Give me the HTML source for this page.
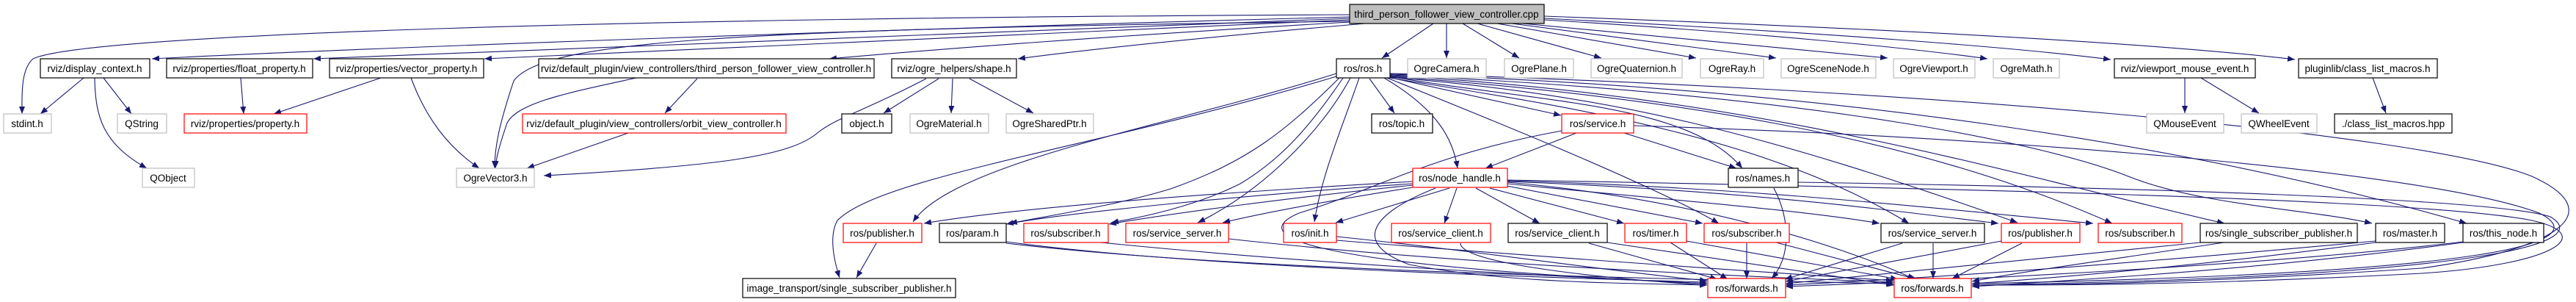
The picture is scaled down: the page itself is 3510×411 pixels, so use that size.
<!DOCTYPE html>
<html><head><meta charset="utf-8"><style>
html,body{margin:0;padding:0;background:#fff;}
svg{display:block;}
text{font-family:"Liberation Sans",sans-serif;font-size:13.5px;fill:#000;text-anchor:middle;}
.e{fill:none;stroke:#191970;stroke-width:1.1;}
</style></head><body>
<svg width="3510" height="411" viewBox="0 0 3510 411" xmlns="http://www.w3.org/2000/svg">
<defs>
<marker id="a" viewBox="0 0 10 8" refX="10" refY="4" markerWidth="10" markerHeight="8" markerUnits="userSpaceOnUse" orient="auto">
<path d="M0,0 L10,4 L0,8 z" fill="#191970"/>
</marker>
</defs>
<g class="e" marker-end="url(#a)">
<path d="M1839,20 C900,24 120,45 45,80 C28,95 30,130 30,155"/>
<path d="M1839,23 C1200,40 500,65 207,80"/>
<path d="M1839,25 C1300,45 800,65 427,80"/>
<path d="M1839,27 C1400,48 1000,65 660,80"/>
<path d="M1839,29 C1000,40 740,55 700,110 C680,170 674,200 674,229"/>
<path d="M1839,30 C1500,50 1300,65 1130,80"/>
<path d="M1860,32 C1650,50 1500,65 1387,80"/>
<path d="M1953,32 L1883,79"/>
<path d="M1971,32 L1971,79"/>
<path d="M1993,32 L2070,79"/>
<path d="M2013,32 L2182,79"/>
<path d="M2040,32 L2311,79"/>
<path d="M2060,32 L2420,79"/>
<path d="M2075,32 L2572,79"/>
<path d="M2104,27 C2400,45 2600,65 2708,80"/>
<path d="M2104,25 C2500,45 2750,65 2876,81"/>
<path d="M2104,22 C2600,40 2950,60 3127,81"/>
<path d="M114,106 L55,155"/>
<path d="M141,106 L179,155"/>
<path d="M129,106 C130,160 140,195 200,229"/>
<path d="M328,106 L332,155"/>
<path d="M519,106 L373,155"/>
<path d="M560,106 C580,160 610,200 653,229"/>
<path d="M867,106 C780,125 700,140 690,170 C680,200 676,215 675,229"/>
<path d="M950,107 L906,154"/>
<path d="M856,181 L718,229"/>
<path d="M1262,107 C1180,150 1140,160 1115,180 C1080,210 1000,225 741,239"/>
<path d="M1279,107 L1204,154"/>
<path d="M1298,107 L1296,154"/>
<path d="M1321,107 L1408,154"/>
<path d="M1821,100 C1600,170 1300,220 1244,302"/>
<path d="M1821,104 C1500,200 1200,240 1141,300 C1130,320 1135,350 1144,378"/>
<path d="M1825,106 C1750,180 1700,220 1595,257 C1520,280 1420,295 1376,304"/>
<path d="M1830,106 C1780,180 1740,220 1690,250 C1630,280 1560,295 1514,303"/>
<path d="M1840,106 C1800,180 1720,260 1632,303"/>
<path d="M1852,106 C1830,170 1800,240 1791,302"/>
<path d="M1866,107 L1900,154"/>
<path d="M1886,106 C1960,150 1980,190 1986,229"/>
<path d="M1892,105 L2127,157"/>
<path d="M1894,104 C2100,140 2300,140 2374,229"/>
<path d="M1890,106 C2000,150 2250,250 2342,304"/>
<path d="M1894,106 C2100,140 2400,180 2601,304"/>
<path d="M1894,105 C2200,130 2400,180 2749,303"/>
<path d="M1894,104 C2250,130 2600,180 2878,304"/>
<path d="M1894,103 C2400,130 2750,240 3031,304"/>
<path d="M1894,102 C2500,130 2800,200 2900,240 C3000,280 3150,285 3232,304"/>
<path d="M1894,101 C2500,120 3000,200 3361,304"/>
<path d="M1894,100 C2600,120 3300,180 3450,240 C3560,290 3480,340 3300,365 C3000,385 2800,388 2687,388"/>
<path d="M1925,247 C1700,260 1400,280 1259,304"/>
<path d="M1925,250 C1700,265 1450,290 1371,305"/>
<path d="M1925,252 C1750,270 1600,290 1511,305"/>
<path d="M1925,255 C1800,275 1720,290 1666,303"/>
<path d="M1975,256 L1820,303"/>
<path d="M1985,256 L1968,304"/>
<path d="M2011,256 L2098,304"/>
<path d="M2030,256 L2213,304"/>
<path d="M2053,253 L2320,304"/>
<path d="M2054,250 C2250,270 2450,285 2561,304"/>
<path d="M1956,256 C1870,290 1840,330 1920,360 C2050,385 2200,385 2326,388"/>
<path d="M2054,248 C2300,270 2500,330 2609,380"/>
<path d="M2054,247 C2400,260 2600,290 2723,304"/>
<path d="M2054,246 C2400,255 2700,290 2852,304"/>
<path d="M2054,245 C2600,255 3300,270 3450,300 C3540,320 3480,360 3300,372 C3000,388 2800,388 2687,388"/>
<path d="M2148,181 L2024,229"/>
<path d="M2213,181 L2366,229"/>
<path d="M2128,178 C1950,210 1870,260 1770,290 C1700,320 1760,360 2326,386"/>
<path d="M2226,171 C2700,185 3300,230 3460,290 C3540,330 3400,372 2687,386"/>
<path d="M2417,256 C2440,300 2440,350 2414,379"/>
<path d="M2450,248 C2900,255 3400,270 3475,295 C3535,330 3400,376 2687,388"/>
<path d="M1194,331 L1167,378"/>
<path d="M1371,329 C1600,360 2000,375 2326,384"/>
<path d="M1371,331 C1700,370 2300,380 2580,386"/>
<path d="M1500,330 C1800,360 2100,375 2326,386"/>
<path d="M1674,325 C1900,350 2200,370 2580,384"/>
<path d="M1821,322 C2000,340 2200,370 2326,382"/>
<path d="M1821,327 C2100,350 2400,370 2580,382"/>
<path d="M1990,331 C1990,360 2200,380 2326,388"/>
<path d="M2165,331 L2340,380"/>
<path d="M2190,330 L2581,388"/>
<path d="M2276,330 L2354,380"/>
<path d="M2298,328 L2586,380"/>
<path d="M2380,331 L2380,379"/>
<path d="M2420,330 L2612,380"/>
<path d="M2592,331 L2432,380"/>
<path d="M2634,331 L2634,379"/>
<path d="M2727,328 L2433,383"/>
<path d="M2755,331 L2660,379"/>
<path d="M2998,330 C2800,350 2600,370 2433,386"/>
<path d="M3030,330 C2900,350 2750,370 2687,383"/>
<path d="M3237,328 C3000,350 2700,375 2433,388"/>
<path d="M3237,330 C3050,355 2850,375 2687,386"/>
<path d="M3356,329 C3100,360 2700,380 2433,390"/>
<path d="M3356,330 C3100,365 2850,380 2687,390"/>
<path d="M2977,106 L2977,154"/>
<path d="M2999,106 L3078,154"/>
<path d="M3233,106 L3251,154"/>
</g>
<g stroke-width="1.2">
<rect x="1839" y="6" width="265" height="26" fill="#bfbfbf" stroke="#000"/>
<rect x="5" y="155" width="65" height="26" fill="#fff" stroke="#bfbfbf"/>
<rect x="55" y="80" width="149" height="26" fill="#fff" stroke="#000"/>
<rect x="160" y="155" width="67" height="26" fill="#fff" stroke="#bfbfbf"/>
<rect x="227" y="80" width="199" height="26" fill="#fff" stroke="#000"/>
<rect x="251" y="155" width="167" height="26" fill="#fff" stroke="#f00"/>
<rect x="194" y="229" width="71" height="26" fill="#fff" stroke="#bfbfbf"/>
<rect x="449" y="80" width="210" height="26" fill="#fff" stroke="#000"/>
<rect x="622" y="229" width="106" height="26" fill="#fff" stroke="#bfbfbf"/>
<rect x="734" y="80" width="457" height="26" fill="#fff" stroke="#000"/>
<rect x="712" y="155" width="359" height="26" fill="#fff" stroke="#f00"/>
<rect x="1215" y="80" width="170" height="26" fill="#fff" stroke="#000"/>
<rect x="1147" y="155" width="68" height="26" fill="#fff" stroke="#000"/>
<rect x="1240" y="155" width="107" height="26" fill="#fff" stroke="#bfbfbf"/>
<rect x="1371" y="155" width="119" height="26" fill="#fff" stroke="#bfbfbf"/>
<rect x="1149" y="304" width="107" height="26" fill="#fff" stroke="#f00"/>
<rect x="1280" y="304" width="91" height="26" fill="#fff" stroke="#000"/>
<rect x="1395" y="304" width="115" height="26" fill="#fff" stroke="#f00"/>
<rect x="1534" y="304" width="140" height="26" fill="#fff" stroke="#f00"/>
<rect x="1749" y="304" width="72" height="26" fill="#fff" stroke="#f00"/>
<rect x="1012" y="379" width="290" height="26" fill="#fff" stroke="#000"/>
<rect x="1821" y="80" width="73" height="26" fill="#fff" stroke="#000"/>
<rect x="1918" y="80" width="107" height="26" fill="#fff" stroke="#bfbfbf"/>
<rect x="2050" y="80" width="94" height="26" fill="#fff" stroke="#bfbfbf"/>
<rect x="2168" y="80" width="124" height="26" fill="#fff" stroke="#bfbfbf"/>
<rect x="2317" y="80" width="86" height="26" fill="#fff" stroke="#bfbfbf"/>
<rect x="2427" y="80" width="129" height="26" fill="#fff" stroke="#bfbfbf"/>
<rect x="2580" y="80" width="111" height="26" fill="#fff" stroke="#bfbfbf"/>
<rect x="1869" y="155" width="83" height="26" fill="#fff" stroke="#000"/>
<rect x="2128" y="155" width="98" height="26" fill="#fff" stroke="#f00"/>
<rect x="1925" y="229" width="129" height="26" fill="#fff" stroke="#f00"/>
<rect x="2355" y="229" width="95" height="26" fill="#fff" stroke="#000"/>
<rect x="1896" y="304" width="135" height="26" fill="#fff" stroke="#f00"/>
<rect x="2055" y="304" width="135" height="26" fill="#fff" stroke="#000"/>
<rect x="2214" y="304" width="84" height="26" fill="#fff" stroke="#f00"/>
<rect x="2322" y="304" width="116" height="26" fill="#fff" stroke="#f00"/>
<rect x="2563" y="304" width="141" height="26" fill="#fff" stroke="#000"/>
<rect x="2327" y="379" width="106" height="26" fill="#fff" stroke="#f00"/>
<rect x="2581" y="379" width="105" height="26" fill="#fff" stroke="#f00"/>
<rect x="2716" y="80" width="90" height="26" fill="#fff" stroke="#bfbfbf"/>
<rect x="2881" y="80" width="192" height="26" fill="#fff" stroke="#000"/>
<rect x="3132" y="80" width="189" height="26" fill="#fff" stroke="#000"/>
<rect x="2925" y="155" width="105" height="26" fill="#fff" stroke="#bfbfbf"/>
<rect x="3054" y="155" width="103" height="26" fill="#fff" stroke="#bfbfbf"/>
<rect x="3181" y="155" width="160" height="26" fill="#fff" stroke="#000"/>
<rect x="2727" y="304" width="107" height="26" fill="#fff" stroke="#f00"/>
<rect x="2859" y="304" width="114" height="26" fill="#fff" stroke="#f00"/>
<rect x="2998" y="304" width="214" height="26" fill="#fff" stroke="#000"/>
<rect x="3237" y="304" width="94" height="26" fill="#fff" stroke="#000"/>
<rect x="3356" y="304" width="110" height="26" fill="#fff" stroke="#000"/>
</g>
<g>
<text x="1971" y="24">third_person_follower_view_controller.cpp</text>
<text x="37" y="173">stdint.h</text>
<text x="129" y="98">rviz/display_context.h</text>
<text x="193" y="173">QString</text>
<text x="326" y="98">rviz/properties/float_property.h</text>
<text x="334" y="173">rviz/properties/property.h</text>
<text x="229" y="247">QObject</text>
<text x="554" y="98">rviz/properties/vector_property.h</text>
<text x="675" y="247">OgreVector3.h</text>
<text x="962" y="98">rviz/default_plugin/view_controllers/third_person_follower_view_controller.h</text>
<text x="891" y="173">rviz/default_plugin/view_controllers/orbit_view_controller.h</text>
<text x="1300" y="98">rviz/ogre_helpers/shape.h</text>
<text x="1181" y="173">object.h</text>
<text x="1293" y="173">OgreMaterial.h</text>
<text x="1430" y="173">OgreSharedPtr.h</text>
<text x="1202" y="322">ros/publisher.h</text>
<text x="1325" y="322">ros/param.h</text>
<text x="1452" y="322">ros/subscriber.h</text>
<text x="1604" y="322">ros/service_server.h</text>
<text x="1785" y="322">ros/init.h</text>
<text x="1157" y="397">image_transport/single_subscriber_publisher.h</text>
<text x="1857" y="98">ros/ros.h</text>
<text x="1971" y="98">OgreCamera.h</text>
<text x="2097" y="98">OgrePlane.h</text>
<text x="2230" y="98">OgreQuaternion.h</text>
<text x="2360" y="98">OgreRay.h</text>
<text x="2491" y="98">OgreSceneNode.h</text>
<text x="2635" y="98">OgreViewport.h</text>
<text x="1910" y="173">ros/topic.h</text>
<text x="2177" y="173">ros/service.h</text>
<text x="1989" y="247">ros/node_handle.h</text>
<text x="2402" y="247">ros/names.h</text>
<text x="1963" y="322">ros/service_client.h</text>
<text x="2122" y="322">ros/service_client.h</text>
<text x="2256" y="322">ros/timer.h</text>
<text x="2380" y="322">ros/subscriber.h</text>
<text x="2633" y="322">ros/service_server.h</text>
<text x="2380" y="397">ros/forwards.h</text>
<text x="2633" y="397">ros/forwards.h</text>
<text x="2761" y="98">OgreMath.h</text>
<text x="2977" y="98">rviz/viewport_mouse_event.h</text>
<text x="3226" y="98">pluginlib/class_list_macros.h</text>
<text x="2977" y="173">QMouseEvent</text>
<text x="3105" y="173">QWheelEvent</text>
<text x="3261" y="173">./class_list_macros.hpp</text>
<text x="2780" y="322">ros/publisher.h</text>
<text x="2916" y="322">ros/subscriber.h</text>
<text x="3105" y="322">ros/single_subscriber_publisher.h</text>
<text x="3284" y="322">ros/master.h</text>
<text x="3411" y="322">ros/this_node.h</text>
</g>
</svg>
</body></html>
